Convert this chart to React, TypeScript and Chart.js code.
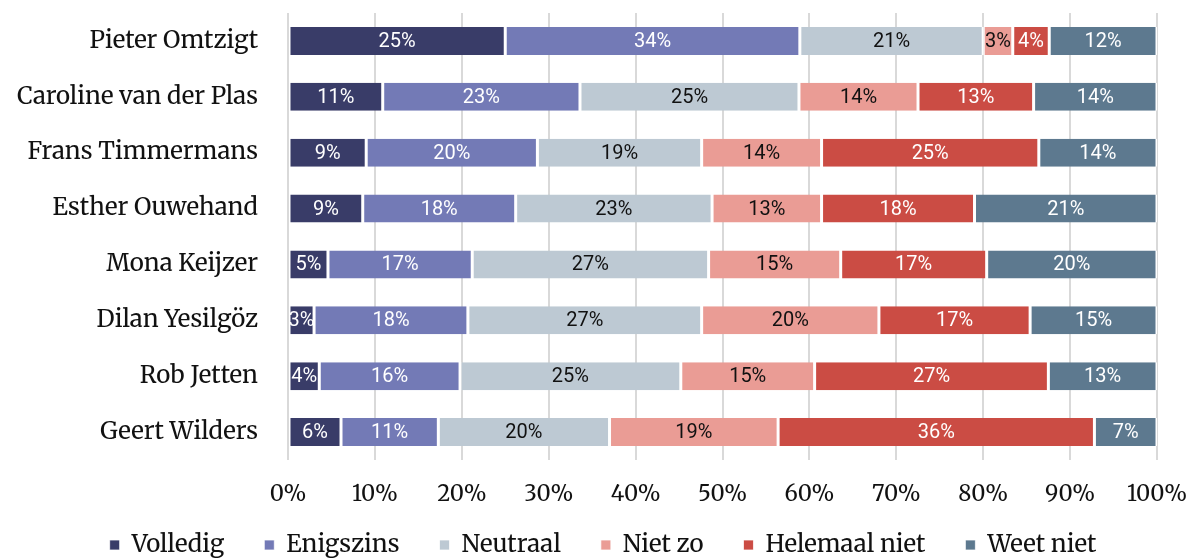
import React, { useEffect, useRef } from 'react';
import { Chart, registerables } from 'chart.js';

Chart.register(...registerables);

const categories = [
  'Pieter Omtzigt',
  'Caroline van der Plas',
  'Frans Timmermans',
  'Esther Ouwehand',
  'Mona Keijzer',
  'Dilan Yesilgöz',
  'Rob Jetten',
  'Geert Wilders',
];
const seriesNames = ['Volledig', 'Enigszins', 'Neutraal', 'Niet zo', 'Helemaal niet', 'Weet niet'];
const volledig = [25.0, 10.9, 9.0, 8.6, 4.6, 3.0, 3.6, 6.1];
const enigszins = [33.9, 22.7, 19.7, 17.6, 16.6, 17.7, 16.2, 11.2];
const neutraal = [21.1, 25.2, 18.9, 22.6, 27.2, 26.9, 25.4, 19.7];
const nietZo = [3.4, 13.7, 13.8, 12.6, 15.2, 20.4, 15.4, 19.4];
const helemaalNiet = [4.2, 13.3, 25.0, 17.6, 16.8, 17.4, 26.9, 36.4];
const weetNiet = [12.4, 14.2, 13.6, 21.0, 19.6, 14.6, 12.5, 7.2];
const xTicks = [0, 10, 20, 30, 40, 50, 60, 70, 80, 90, 100];

const seriesValues = [volledig, enigszins, neutraal, nietZo, helemaalNiet, weetNiet];
const colors = ['#393c68', '#737ab6', '#bdc9d3', '#ea9c95', '#cb4c44', '#5d798f'];
const labelColors = ['#ffffff', '#ffffff', '#111111', '#111111', '#ffffff', '#ffffff'];

const SERIF = 'Merriweather, "DejaVu Serif", serif';
const SANS = 'Roboto, "Noto Sans", sans-serif';

const barLabels = {
  id: 'barLabels',
  afterDatasetsDraw(chart: any) {
    const ctx = chart.ctx;
    ctx.save();
    ctx.font = `20px ${SANS}`;
    ctx.textAlign = 'center';
    ctx.textBaseline = 'middle';
    chart.data.datasets.forEach((ds: any, di: number) => {
      const meta = chart.getDatasetMeta(di);
      meta.data.forEach((el: any, i: number) => {
        const { x, y, base } = el.getProps(['x', 'y', 'base'], true);
        const v = ds.data[i];
        ctx.fillStyle = labelColors[di];
        ctx.fillText(`${Math.round(v)}%`, (x + base) / 2, y + 1);
      });
    });
    ctx.restore();
  },
};

export default function App() {
  const ref = useRef<HTMLCanvasElement>(null);
  useEffect(() => {
    document.body.style.margin = '0';
    const chart = new Chart(ref.current!, {
      type: 'bar',
      data: {
        labels: categories,
        datasets: seriesNames.map((name, i) => ({
          label: name,
          data: seriesValues[i],
          backgroundColor: colors[i],
          borderColor: '#ffffff',
          borderWidth: { top: 0, bottom: 0, left: 1.5, right: 1.5 },
          borderSkipped: false,
          barPercentage: 0.5,
          categoryPercentage: 1,
        })),
      },
      options: {
        indexAxis: 'y',
        animation: false,
        responsive: true,
        maintainAspectRatio: false,
        layout: { padding: { top: 13, right: 0, bottom: 0, left: 12 } },
        plugins: {
          tooltip: { enabled: false },
          legend: {
            position: 'bottom',
            maxHeight: 49,
            title: {
              display: true,
              text: '',
              font: { size: 1, lineHeight: 1 },
              padding: { top: 0, bottom: -18 },
            },
            labels: {
              boxWidth: 10,
              boxHeight: 10,
              padding: 40,
              color: '#111111',
              font: { family: SERIF, size: 24 },
            },
          },
        },
        scales: {
          x: {
            stacked: true,
            min: 0,
            max: 100,
            afterBuildTicks: (scale: any) => {
              scale.ticks = xTicks.map((v) => ({ value: v }));
            },
            afterFit: (scale: any) => {
              scale.height = 50;
              scale.paddingLeft = 0;
              scale.paddingRight = 37;
            },
            ticks: {
              padding: 22,
              maxRotation: 0,
              color: '#111111',
              font: { family: SERIF, size: 22 },
              callback: (v: any) => `${v}%`,
            },
            grid: { color: '#d9d9d9', lineWidth: 2, drawTicks: false },
            border: { display: false },
          },
          y: {
            stacked: true,
            afterFit: (scale: any) => {
              scale.width = 276;
              scale.paddingTop = 0;
              scale.paddingBottom = 0;
            },
            ticks: {
              padding: 30,
              color: '#111111',
              font: { family: SERIF, size: 24 },
            },
            grid: { display: false, drawTicks: false },
            border: { display: false },
          },
        },
      },
      plugins: [barLabels],
    });
    return () => chart.destroy();
  }, []);
  return (
    <div style={{ width: 1194, height: 559, position: 'relative' }}>
      <canvas ref={ref} />
    </div>
  );
}
